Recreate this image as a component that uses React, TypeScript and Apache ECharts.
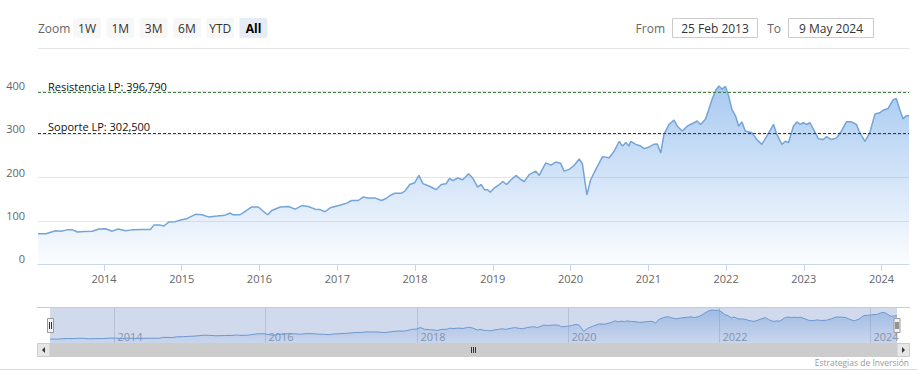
import React, { useEffect, useRef } from 'react';
import * as echarts from 'echarts';

const dates: string[] = [
  '2013-02-25','2013-04-03','2013-05-19','2013-06-12','2013-07-13','2013-08-06','2013-08-29','2013-09-29','2013-11-07','2013-12-08',
  '2014-01-08','2014-02-09','2014-03-08','2014-04-11','2014-05-13','2014-06-29','2014-08-07','2014-08-23','2014-09-23','2014-10-09',
  '2014-11-01','2014-12-02','2014-12-26','2015-01-25','2015-03-06','2015-04-06','2015-05-07','2015-06-16','2015-07-24','2015-08-16',
  '2015-08-30','2015-10-02','2015-10-26','2015-11-26','2015-12-27','2016-01-19','2016-02-09','2016-02-28','2016-04-08','2016-05-16',
  '2016-06-17','2016-07-18','2016-08-18','2016-09-18','2016-10-12','2016-11-04','2016-11-28','2016-12-21','2017-01-21','2017-02-14',
  '2017-03-09','2017-04-09','2017-05-02','2017-05-26','2017-06-26','2017-07-27','2017-08-15','2017-09-04','2017-09-28','2017-10-29',
  '2017-11-13','2017-12-07','2017-12-30','2018-01-19','2018-02-07','2018-03-10','2018-04-10','2018-05-04','2018-05-27','2018-06-12',
  '2018-06-27','2018-07-20','2018-08-13','2018-09-09','2018-09-29','2018-10-22','2018-11-07','2018-11-23','2018-12-08','2018-12-20',
  '2019-01-08','2019-02-01','2019-02-17','2019-03-07','2019-03-28','2019-04-20','2019-05-14','2019-05-29','2019-06-21','2019-07-22',
  '2019-08-07','2019-09-07','2019-10-01','2019-10-24','2019-11-16','2019-12-02','2019-12-26','2020-01-18','2020-02-11','2020-02-26',
  '2020-03-18','2020-04-05','2020-04-29','2020-05-30','2020-07-01','2020-07-24','2020-08-17','2020-09-01','2020-09-17','2020-10-02',
  '2020-10-10','2020-11-03','2020-11-26','2020-12-12','2021-01-04','2021-01-27','2021-02-12','2021-02-28','2021-03-15','2021-04-08',
  '2021-05-01','2021-05-17','2021-06-09','2021-07-02','2021-08-03','2021-08-18','2021-09-03','2021-09-26','2021-10-12','2021-10-27',
  '2021-11-12','2021-11-28','2021-12-13','2021-12-29','2022-01-13','2022-01-28','2022-02-14','2022-03-01','2022-03-16','2022-04-01',
  '2022-05-02','2022-05-25','2022-06-18','2022-07-11','2022-08-12','2022-08-27','2022-09-20','2022-10-06','2022-10-21','2022-11-13',
  '2022-11-29','2022-12-15','2022-12-30','2023-01-14','2023-01-30','2023-02-15','2023-03-10','2023-04-02','2023-04-18','2023-05-11',
  '2023-06-04','2023-06-27','2023-07-20','2023-08-13','2023-09-05','2023-09-21','2023-10-15','2023-11-07','2023-12-01','2023-12-24',
  '2024-01-08','2024-02-01','2024-02-24','2024-03-10','2024-03-26','2024-04-11','2024-04-26','2024-05-09'
];

const values: number[] = [
  70,70,77,76,79,79,74,75.5,76,81,
  81.5,76,81,77,79,80,80,90,90,88,
  97,98,102,105,115,114,109,111,113,118,
  114,114,122,132,132,122,114,124,132,133,
  127,135,133,127,126,121,130,133,137,141,
  147,147,155,153,153,147,151,158,164,164,
  168,184,188,205,186,180,172,184,186,198,
  193,199,195,209,199,178,184,172,172,166,
  176,184,191,184,195,205,195,191,207,215,
  205,234,229,236,233,215,219,228,243,232,
  160,195,219,248,246,261,284,273,281,273,
  284,277,273,267,271,277,278,257,300,323,
  333,319,308,319,327,331,323,335,358,381,
  401,412,405,411,389,358,343,319,329,308,
  304,288,277,296,323,300,277,284,281,319,
  329,323,327,323,327,312,290,288,295,288,
  292,308,329,329,323,304,284,304,347,350,
  356,360,380,383,358,336,343,343
];

const resistanceLevel = 396.79;
const supportLevel = 302.5;
const resistanceLabel = 'Resistencia LP: 396,790';
const supportLabel = 'Soporte LP: 302,500';
const zoomButtons = ['1W', '1M', '3M', '6M', 'YTD', 'All'];
const selectedButton = 'All';
const fromText = '25 Feb 2013';
const toText = '9 May 2024';
const navigatorYears = ['2014', '2016', '2018', '2020', '2022', '2024'];
const creditText = 'Estrategias de Inversión';

const FONT = '"Open Sans", "DejaVu Sans", sans-serif';
const YEAR = 365.25 * 24 * 3600 * 1000;
const NAV_MIN = 24;
const NAV_MAX = 435;

const toTs = (d: string) => new Date(d + 'T00:00:00Z').getTime();

export default function App() {
  const ref = useRef<HTMLDivElement>(null);

  useEffect(() => {
    if (!ref.current) return;
    const chart = echarts.init(ref.current, undefined, { renderer: 'svg' });
    const seriesData = dates.map((d, i) => [toTs(d), values[i]]);
    const tStart = toTs(dates[0]);
    const tEnd = toTs(dates[dates.length - 1]);

    const graphics: any[] = [];
    graphics.push({
      type: 'text', x: 38, y: 28,
      style: { text: 'Zoom', fill: '#666', font: `12px ${FONT}`, verticalAlign: 'middle' }
    });
    zoomButtons.forEach((b, i) => {
      const x = 73 + i * 33.3;
      const sel = b === selectedButton;
      graphics.push({
        type: 'rect', x, y: 18, shape: { x: 0, y: 0, width: 28, height: 20, r: 2 },
        style: { fill: sel ? '#e6ebf5' : '#f7f7f7' }
      });
      graphics.push({
        type: 'text', x: x + 14, y: 28,
        style: { text: b, fill: sel ? '#000' : '#333', font: `${sel ? 'bold ' : ''}12px ${FONT}`, align: 'center', verticalAlign: 'middle' }
      });
    });
    graphics.push({ type: 'text', x: 665, y: 28, style: { text: 'From', fill: '#666', font: `12px ${FONT}`, align: 'right', verticalAlign: 'middle' } });
    graphics.push({ type: 'rect', shape: { x: 672.5, y: 18.5, width: 85, height: 19 }, style: { fill: '#fff', stroke: '#cccccc', lineWidth: 1 } });
    graphics.push({ type: 'text', x: 715, y: 28, style: { text: fromText, fill: '#333', font: `12px ${FONT}`, align: 'center', verticalAlign: 'middle' } });
    graphics.push({ type: 'text', x: 781, y: 28, style: { text: 'To', fill: '#666', font: `12px ${FONT}`, align: 'right', verticalAlign: 'middle' } });
    graphics.push({ type: 'rect', shape: { x: 788.5, y: 18.5, width: 85, height: 19 }, style: { fill: '#fff', stroke: '#cccccc', lineWidth: 1 } });
    graphics.push({ type: 'text', x: 831, y: 28, style: { text: toText, fill: '#333', font: `12px ${FONT}`, align: 'center', verticalAlign: 'middle' } });

    // navigator decorations
    graphics.push({ type: 'line', shape: { x1: 37, y1: 307.5, x2: 910, y2: 307.5 }, style: { stroke: '#cccccc', lineWidth: 1 }, z: 100 });
    graphics.push({ type: 'rect', shape: { x: 50, y: 308, width: 847, height: 35 }, style: { fill: 'rgba(102,133,194,0.3)' }, z: 100 });
    [47, 893.5].forEach((hx) => {
      graphics.push({ type: 'rect', shape: { x: hx + 0.5, y: 318.5, width: 6, height: 14 }, style: { fill: '#f2f2f2', stroke: '#999999', lineWidth: 1 }, z: 101 });
      graphics.push({ type: 'line', shape: { x1: hx + 2.5, y1: 322, x2: hx + 2.5, y2: 329 }, style: { stroke: '#333', lineWidth: 1 }, z: 102 });
      graphics.push({ type: 'line', shape: { x1: hx + 4.5, y1: 322, x2: hx + 4.5, y2: 329 }, style: { stroke: '#333', lineWidth: 1 }, z: 102 });
    });
    // scrollbar
    graphics.push({ type: 'rect', shape: { x: 50, y: 343, width: 847, height: 14 }, style: { fill: '#cccccc' }, z: 100 });
    graphics.push({ type: 'rect', shape: { x: 37.5, y: 343.5, width: 12.5, height: 13 }, style: { fill: '#e6e6e6', stroke: '#cccccc', lineWidth: 1 }, z: 100 });
    graphics.push({ type: 'rect', shape: { x: 897, y: 343.5, width: 12.5, height: 13 }, style: { fill: '#e6e6e6', stroke: '#cccccc', lineWidth: 1 }, z: 100 });
    graphics.push({ type: 'polygon', shape: { points: [[45, 347], [45, 353], [42, 350]] }, style: { fill: '#333' }, z: 101 });
    graphics.push({ type: 'polygon', shape: { points: [[902, 347], [902, 353], [905, 350]] }, style: { fill: '#333' }, z: 101 });
    [471.5, 473.5, 475.5].forEach((gx) => {
      graphics.push({ type: 'line', shape: { x1: gx, y1: 347, x2: gx, y2: 353 }, style: { stroke: '#333', lineWidth: 1 }, z: 101 });
    });
    graphics.push({ type: 'line', shape: { x1: 0, y1: 369.5, x2: 917, y2: 369.5 }, style: { stroke: '#d8d8d8', lineWidth: 1 } });
    graphics.push({ type: 'text', x: 909, y: 362, style: { text: creditText, fill: '#999', font: `8.5px ${FONT}`, align: 'right', verticalAlign: 'middle' } });

    const option: any = {
      animation: false,
      useUTC: true,
      backgroundColor: '#ffffff',
      textStyle: { fontFamily: FONT },
      grid: [
        { left: 38, right: 8, top: 48, height: 216, containLabel: false },
        { left: 50, right: 20, top: 308, height: 35, containLabel: false }
      ],
      xAxis: [
        {
          type: 'time', gridIndex: 0, min: tStart, max: tEnd,
          minInterval: YEAR * 0.98, maxInterval: YEAR * 1.02, splitNumber: 11,
          axisLine: { lineStyle: { color: '#ccd6eb' } },
          axisTick: { show: true, length: 7, lineStyle: { color: '#ccd6eb' } },
          axisLabel: {
            color: '#666', fontSize: 11, fontFamily: FONT, margin: 9,
            formatter: (v: number) => String(new Date(v).getUTCFullYear())
          },
          splitLine: { show: false }
        },
        { type: 'time', gridIndex: 1, min: tStart, max: tEnd, show: false }
      ],
      yAxis: [
        {
          type: 'value', gridIndex: 0, min: 0, max: 500, interval: 100,
          axisLine: { show: false }, axisTick: { show: false },
          splitLine: { lineStyle: { color: '#e6e6e6' } },
          axisLabel: { color: '#666', fontSize: 11, fontFamily: FONT, margin: 13, verticalAlign: 'bottom', showMaxLabel: false }
        },
        { type: 'value', gridIndex: 1, min: NAV_MIN, max: NAV_MAX, show: false }
      ],
      series: [
        {
          type: 'line', xAxisIndex: 0, yAxisIndex: 0, data: seriesData, symbol: 'none',
          lineStyle: { color: '#74a4d8', width: 1.5 },
          areaStyle: {
            color: new echarts.graphic.LinearGradient(0, 0, 0, 1, [
              { offset: 0, color: 'rgba(74,144,226,0.68)' },
              { offset: 1, color: 'rgba(74,144,226,0.03)' }
            ])
          },
          markLine: {
            silent: true, symbol: 'none',
            data: [
              {
                yAxis: resistanceLevel,
                lineStyle: { color: '#3f7f3f', type: [3, 2], width: 1 },
                label: { formatter: resistanceLabel }
              },
              {
                yAxis: supportLevel,
                lineStyle: { color: '#8a1515', type: [3, 2], width: 1 },
                label: { formatter: supportLabel }
              }
            ],
            label: { position: 'insideStartTop', distance: [10, 1], color: '#111', fontSize: 11, fontFamily: FONT }
          },
          z: 3
        },
        {
          type: 'line', xAxisIndex: 1, yAxisIndex: 1, data: seriesData, symbol: 'none',
          lineStyle: { color: '#6f9fd3', width: 1 },
          areaStyle: {
            color: new echarts.graphic.LinearGradient(0, 0, 0, 1, [
              { offset: 0, color: 'rgba(74,144,226,0.55)' },
              { offset: 1, color: 'rgba(74,144,226,0.08)' }
            ])
          },
          z: 3
        },
        {
          type: 'custom', xAxisIndex: 1, yAxisIndex: 1,
          data: navigatorYears.map((y) => [toTs(y + '-01-01')]),
          silent: true,
          renderItem: (_params: any, api: any) => {
            const t = api.value(0);
            const top = api.coord([t, NAV_MAX]);
            const bot = api.coord([t, NAV_MIN]);
            const x = Math.round(top[0]) + 0.5;
            return {
              type: 'group',
              children: [
                { type: 'line', shape: { x1: x, y1: top[1], x2: x, y2: bot[1] }, style: { stroke: '#dcdcdc', lineWidth: 1 } },
                { type: 'text', x: x + 3, y: bot[1] - 1, style: { text: String(new Date(t).getUTCFullYear()), fill: '#999', font: `11px ${FONT}`, align: 'left', verticalAlign: 'bottom' } }
              ]
            };
          },
          z: 2
        }
      ],
      graphic: graphics
    };
    chart.setOption(option);
    return () => chart.dispose();
  }, []);

  return <div ref={ref} style={{ position: 'fixed', left: 0, top: 0, width: '917px', height: '384px' }} />;
}
